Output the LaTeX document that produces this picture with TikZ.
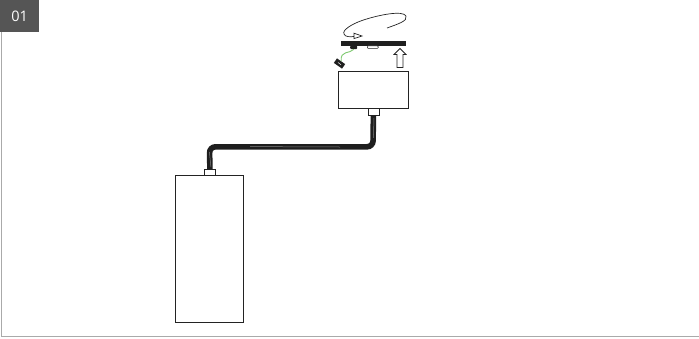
\documentclass[tikz,border=0pt]{standalone}
\usepackage{fontspec}
\setsansfont{Open Sans}
\usetikzlibrary{arrows.meta,calc,shapes.arrows}
\definecolor{dgedge}{RGB}{35,35,35}
\definecolor{dgframe}{RGB}{170,170,170}
\definecolor{dgtag}{RGB}{85,85,85}
\definecolor{dgcable}{RGB}{30,30,30}
\definecolor{dgstreak}{RGB}{130,130,130}
\definecolor{dgwire}{RGB}{125,200,110}
\tikzset{
  unitbox/.style={
    draw=dgedge, line width=0.9pt, fill=white, anchor=north west, inner sep=0pt
  },
  plug/.style={unitbox, line width=0.8pt},
  blob/.style={draw=none, fill=black!88, anchor=north west, inner sep=0pt},
  tag/.style={
    fill=dgtag, text=white, anchor=north west, inner sep=0pt,
    font=\sffamily\fontsize{14.5}{14.5}\selectfont, minimum width=39pt, minimum height=32pt
  },
  cable/.style={draw=dgcable, line width=5.6pt, rounded corners=6pt},
  streak/.style={draw=dgstreak, line width=0.5pt},
  upar/.style={
    single arrow, draw=dgedge, fill=white, line width=0.8pt, shape border rotate=90,
    single arrow head extend=3pt, single arrow tip angle=90, inner sep=2.6pt,
    minimum width=12pt, minimum height=19pt
  },
  turn/.style={draw=dgedge, line width=0.7pt}
}
\begin{document}
\begin{tikzpicture}[x=1pt,y=-1pt]
  \useasboundingbox (0,0) rectangle (699,338);
  \draw[dgframe, line width=1.2pt] (1.8,32) -- (1.8,336.6) -- (699,336.6);
  \node[tag] (label) at (0,0) {01};
  % battery and cable
  \node[unitbox, minimum width=68pt, minimum height=147pt] (batt) at (175,175) {};
  \node[plug, minimum width=11pt, minimum height=6pt] (battplug) at (204,169) {};
  \node[unitbox, minimum width=70pt, minimum height=37pt] (head) at (338,71) {};
  \node[plug, minimum width=11pt, minimum height=7pt] (headplug) at (367.5,108) {};
  \coordinate (bendl) at (209.5,146.8);
  \coordinate (bendr) at (373,146.8);
  \draw[cable] (battplug.north) -- (bendl) -- (bendr) -- (headplug.south);
  \draw[streak] ($(battplug.north)+(1,-2)$) -- +(-1.5,-15);
  \draw[streak] (250,146.6) -- (340,147);
  \draw[streak] ($(headplug.south)+(0.6,2)$) -- +(-0.6,20);
  % plate on top
  \node[blob, minimum width=65pt, minimum height=5pt] (plate) at (341,41) {};
  \node[blob, rounded corners=1pt, minimum width=7pt, minimum height=3.5pt] (sensor) at (350,45.5) {};
  \node[plug, rounded corners=1pt, line width=0.5pt, minimum width=11pt, minimum height=2.6pt] (pad) at (367,45.6) {};
  \node[blob, rotate=-35, minimum width=10pt, minimum height=5.5pt, anchor=center] (clip) at (339.5,63.5) {};
  \draw[dgwire, line width=0.9pt] (sensor.south) .. controls (350,54) and (340,50) .. (clip.north);
  \draw[white, line width=0.5pt] ($(clip.center)+(-1.5,-1)$) -- +(3,2.2);
  \node[upar] (lift) at (400,59.5) {};
  % rotation
  \coordinate (turnstart) at (387,28);
  \coordinate (turntip) at (362,36);
  \draw[turn] (turnstart) .. controls (398,24) and (408,21) .. (406,16)
    .. controls (403,10) and (378,15) .. (362,20.5)
    .. controls (352,24) and (342,30) .. (344,34)
    .. controls (345,37) and (350,37) .. (354,36.5);
  \draw[turn, fill=white] (354,33.2) -- (turntip) -- (354,38.6) -- cycle;
\end{tikzpicture}
\end{document}
